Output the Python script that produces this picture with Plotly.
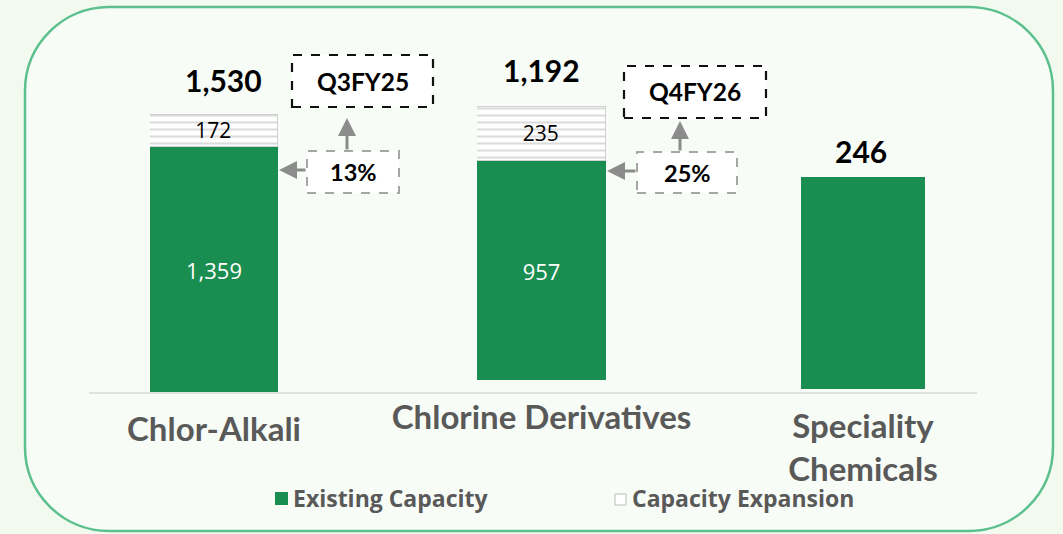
import plotly.graph_objects as go

# ---------------- data ----------------
categories = ["Chlor-Alkali", "Chlorine Derivatives", "Speciality Chemicals"]
tick_labels = ["Chlor-Alkali", "Chlorine Derivatives", "Speciality<br>Chemicals"]
existing = [1359, 957, 246]
expansion = [172, 235, 0]
total_labels = ["1,530", "1,192", "246"]
growth_labels = ["13%", "25%"]
timeline_labels = ["Q3FY25", "Q4FY26"]
legend_labels = ["Existing Capacity", "Capacity Expansion"]

# ---------------- styling / geometry ----------------
W, H = 1063, 534
GREEN = "#1a8d50"
GRAY_TXT = "#595959"
FONT = "Lato"


def px(x):
    return x / W


def py(y):
    return 1 - y / H


# each category drawn on its own panel (pixels: bar left, bar right, baseline, units per pixel)
panels = [
    dict(x0=150, x1=278, base=392, scale=5.536, tot_dx=9, tot_dy=15),
    dict(x0=477, x1=606, base=380, scale=4.366, tot_dx=0, tot_dy=17),
    dict(x0=801, x1=925, base=389, scale=1.160, tot_dx=-2, tot_dy=6),
]

fig = go.Figure()
layout_axes = {}
annotations = []
shapes = []

for i, (cat, p) in enumerate(zip(categories, panels)):
    n = "" if i == 0 else str(i + 1)
    xa, ya = "x" + n, "y" + n
    fig.add_trace(go.Bar(
        x=[cat], y=[existing[i]], xaxis=xa, yaxis=ya, width=1,
        marker=dict(color=GREEN, line=dict(width=0)),
        text=[f"{existing[i]:,}"] if expansion[i] > 0 else None,
        textposition="inside", insidetextanchor="middle", constraintext="none",
        textfont=dict(family="Open Sans", size=22, color="white"),
        name=legend_labels[0], showlegend=False, hoverinfo="skip",
    ))
    if expansion[i] > 0:
        fig.add_trace(go.Bar(
            x=[cat], y=[expansion[i]], xaxis=xa, yaxis=ya, width=1,
            marker=dict(color="white",
                        line=dict(color="#d0d0d0", width=1.5),
                        pattern=dict(shape="-", fgcolor="#b8b8b8", bgcolor="white",
                                     size=7, solidity=0.3)),
            text=[f"{expansion[i]:,}"],
            textposition="inside", insidetextanchor="middle", constraintext="none",
            textfont=dict(family="Open Sans", size=21, color="black"),
            name=legend_labels[1], showlegend=False, hoverinfo="skip",
        ))
    layout_axes["xaxis" + n] = dict(
        domain=[px(p["x0"]), px(p["x1"])], range=[-0.5, 0.5], type="category",
        anchor=ya, showgrid=False, zeroline=False, showline=False, ticks="",
        tickmode="array", tickvals=[cat], ticktext=[tick_labels[i]],
        tickfont=dict(family=FONT, size=33, color=GRAY_TXT, weight="bold"),
        ticklabelstandoff=15, fixedrange=True, automargin=False,
    )
    layout_axes["yaxis" + n] = dict(
        domain=[py(p["base"]), 1], range=[0, p["scale"] * p["base"]],
        anchor=xa, visible=False, fixedrange=True, automargin=False,
    )
    annotations.append(dict(
        xref=xa, yref=ya, x=cat, y=existing[i] + expansion[i],
        text=total_labels[i], showarrow=False, xanchor="center", yanchor="bottom",
        xshift=p["tot_dx"], yshift=p["tot_dy"],
        font=dict(family=FONT, size=30, color="black", weight="bold"),
    ))

fig.update_layout(**layout_axes)

# rounded outer frame
def rounded_path(x0, y0, x1, y1, r):
    k = 0.5523 * r
    pts = [
        ("M", [(x0 + r, y0)]),
        ("L", [(x1 - r, y0)]),
        ("C", [(x1 - r + k, y0), (x1, y0 + r - k), (x1, y0 + r)]),
        ("L", [(x1, y1 - r)]),
        ("C", [(x1, y1 - r + k), (x1 - r + k, y1), (x1 - r, y1)]),
        ("L", [(x0 + r, y1)]),
        ("C", [(x0 + r - k, y1), (x0, y1 - r + k), (x0, y1 - r)]),
        ("L", [(x0, y0 + r)]),
        ("C", [(x0, y0 + r - k), (x0 + r - k, y0), (x0 + r, y0)]),
    ]
    s = ""
    for cmd, coords in pts:
        s += cmd + " ".join(f"{px(a):.5f},{py(b):.5f}" for a, b in coords) + " "
    return s + "Z"


shapes.append(dict(type="path", xref="paper", yref="paper", layer="below",
                   path=rounded_path(25, 7, 1053, 531, 84),
                   fillcolor="#f8fcf6", line=dict(color="#5cc08d", width=2.5)))
# baseline
shapes.append(dict(type="line", xref="paper", yref="paper", layer="below",
                   x0=px(89), x1=px(977), y0=py(393), y1=py(393),
                   line=dict(color="#d9d9d9", width=1.5)))

# callout boxes
timeline_boxes = [(292, 55, 433, 107), (624, 66, 766, 118)]
growth_boxes = [(307, 151, 399, 193), (637, 152, 737, 193)]
up_arrows = [(347, 118, 151), (680, 121, 152)]      # x, tip y, tail y
left_arrows = [(279, 170, 307), (607, 171, 637)]    # tip x, y, tail x

for j in range(2):
    x0, y0, x1, y1 = timeline_boxes[j]
    shapes.append(dict(type="rect", xref="paper", yref="paper",
                       x0=px(x0), x1=px(x1), y0=py(y1), y1=py(y0),
                       fillcolor="white", line=dict(color="#111111", width=2.2, dash="dash")))
    annotations.append(dict(xref="paper", yref="paper", x=px((x0 + x1) / 2), y=py((y0 + y1) / 2),
                            xanchor="center", yanchor="middle",
                            text=timeline_labels[j], showarrow=False,
                            font=dict(family=FONT, size=24.5, color="black", weight="bold")))
    x0, y0, x1, y1 = growth_boxes[j]
    shapes.append(dict(type="rect", xref="paper", yref="paper",
                       x0=px(x0), x1=px(x1), y0=py(y1), y1=py(y0),
                       fillcolor="white", line=dict(color="#a6a6a6", width=2, dash="dash")))
    annotations.append(dict(xref="paper", yref="paper", x=px((x0 + x1) / 2), y=py((y0 + y1) / 2),
                            xanchor="center", yanchor="middle",
                            text=growth_labels[j], showarrow=False,
                            font=dict(family=FONT, size=23.5, color="black", weight="bold")))
    ax_, tip_y, tail_y = up_arrows[j]
    annotations.append(dict(xref="paper", yref="paper", x=px(ax_), y=py(tip_y), text="",
                            showarrow=True, ax=0, ay=tail_y - tip_y, arrowhead=2,
                            arrowsize=1.2, arrowwidth=3, arrowcolor="#8c8c8c", standoff=0,
                            startstandoff=0))
    tip_x, yy, tail_x = left_arrows[j]
    annotations.append(dict(xref="paper", yref="paper", x=px(tip_x), y=py(yy), text="",
                            showarrow=True, ax=tail_x - tip_x, ay=0, arrowhead=2,
                            arrowsize=1.2, arrowwidth=3, arrowcolor="#8c8c8c", standoff=0,
                            startstandoff=0))

# legend (manual)
shapes.append(dict(type="rect", xref="paper", yref="paper",
                   x0=px(275), x1=px(288), y0=py(505), y1=py(492),
                   fillcolor=GREEN, line=dict(width=0)))
shapes.append(dict(type="rect", xref="paper", yref="paper",
                   x0=px(615), x1=px(626), y0=py(505), y1=py(494),
                   fillcolor="white", line=dict(color="#bdbdbd", width=1)))
annotations.append(dict(xref="paper", yref="paper", x=px(291), y=py(498),
                        xanchor="left", yanchor="middle",
                        text=legend_labels[0], showarrow=False,
                        font=dict(family="Open Sans", size=23, color=GRAY_TXT, weight="bold")))
annotations.append(dict(xref="paper", yref="paper", x=px(630), y=py(498),
                        xanchor="left", yanchor="middle",
                        text=legend_labels[1], showarrow=False,
                        font=dict(family="Open Sans", size=23, color=GRAY_TXT, weight="bold")))

fig.update_layout(
    width=W, height=H, margin=dict(l=0, r=0, t=0, b=0, autoexpand=False),
    paper_bgcolor="#f2f9ef", plot_bgcolor="rgba(0,0,0,0)",
    barmode="stack", bargap=0, showlegend=False,
    shapes=shapes, annotations=annotations,
)

fig.write_html("out.html", config={"displayModeBar": False},
               post_script="document.body.style.margin='0px';"
                           "document.body.style.background='#f2f9ef';")
